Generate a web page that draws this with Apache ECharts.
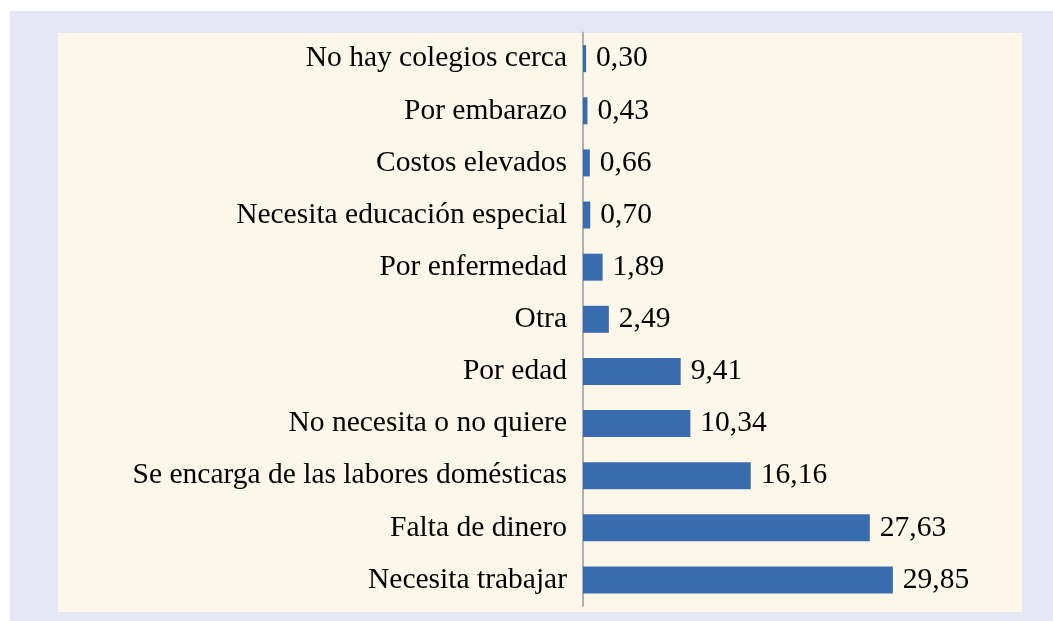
<!DOCTYPE html>
<html>
<head>
<meta charset="utf-8">
<script src="https://cdn.jsdelivr.net/npm/echarts@6/dist/echarts.min.js"></script>
<style>
html,body{margin:0;padding:0;background:#ffffff;}
#outer{position:absolute;left:10px;top:11px;width:1043px;height:610px;background:#E4E6F3;}
#inner{position:absolute;left:58px;top:33px;width:964px;height:579px;background:#FDF7EA;}
#chart{position:absolute;left:0;top:0;width:1053px;height:621px;}
</style>
</head>
<body>
<div id="outer"></div>
<div id="inner"></div>
<div id="chart"></div>
<script>
var categories = [
  "No hay colegios cerca",
  "Por embarazo",
  "Costos elevados",
  "Necesita educación especial",
  "Por enfermedad",
  "Otra",
  "Por edad",
  "No necesita o no quiere",
  "Se encarga de las labores domésticas",
  "Falta de dinero",
  "Necesita trabajar"
];
var values = [0.30, 0.43, 0.66, 0.70, 1.89, 2.49, 9.41, 10.34, 16.16, 27.63, 29.85];

var chart = echarts.init(document.getElementById('chart'), null, {renderer: 'canvas'});
chart.setOption({
  backgroundColor: 'transparent',
  animation: false,
  grid: {left: 583, top: 32.6, width: 436, height: 573.4, containLabel: false},
  xAxis: {
    type: 'value', min: 0, max: 42, show: false
  },
  yAxis: {
    type: 'category',
    data: categories,
    inverse: true,
    axisLine: {show: true, lineStyle: {color: '#B0B0B0', width: 2}},
    axisTick: {show: false},
    splitLine: {show: false},
    axisLabel: {
      color: '#000', fontFamily: '"Liberation Serif", "DejaVu Serif", serif',
      fontSize: 29.5, margin: 16, padding: [5, 0, 0, 0]
    }
  },
  series: [{
    type: 'bar',
    data: values,
    barWidth: 27,
    itemStyle: {color: '#396CAF'},
    label: {
      show: true, position: 'right', distance: 10,
      color: '#000', fontFamily: '"Liberation Serif", "DejaVu Serif", serif',
      fontSize: 29.5, padding: [5, 0, 0, 0],
      formatter: function (p) { return p.value.toFixed(2).replace('.', ','); }
    }
  }]
});
</script>
</body>
</html>
